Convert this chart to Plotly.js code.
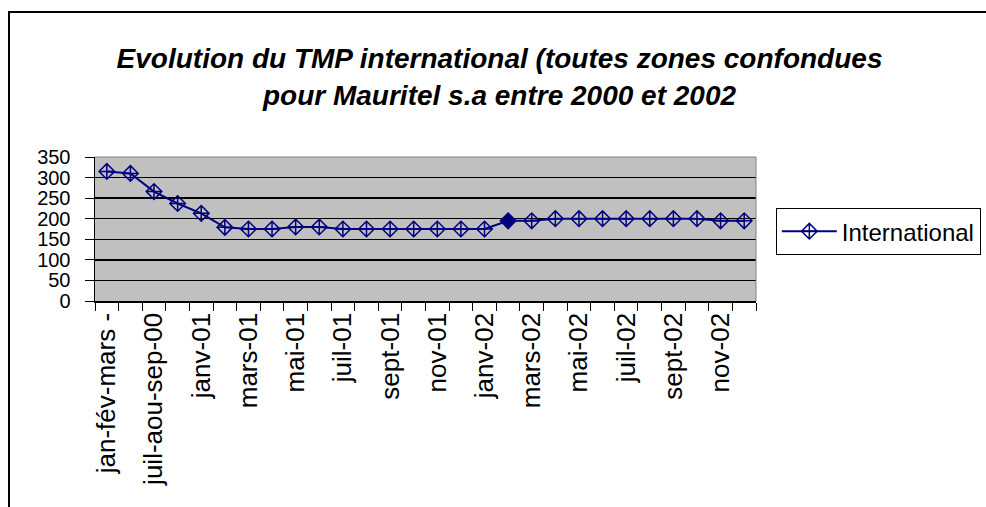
<!DOCTYPE html>
<html>
<head>
<meta charset="utf-8">
<script src="https://cdn.plot.ly/plotly-3.0.1.min.js"></script>
<style>
  html, body { margin: 0; padding: 0; background: #fff; }
  #wrap { position: relative; width: 986px; height: 507px; overflow: hidden; }
  #chart { width: 986px; height: 507px; }
  #frame { position: absolute; left: 8px; top: 11px; width: 1000px; height: 520px;
           border-left: 2px solid #000; border-top: 2px solid #000; pointer-events: none; }
</style>
</head>
<body>
<div id="wrap">
  <div id="chart"></div>
  <div id="frame"></div>
</div>
<script>
const categories = [
  "jan-fév-mars -00", "avr-mai-juin-00", "juil-aou-sep-00", "oct-nov-déc-00",
  "janv-01", "févr-01", "mars-01", "avr-01", "mai-01", "juin-01", "juil-01", "août-01",
  "sept-01", "oct-01", "nov-01", "déc-01",
  "janv-02", "févr-02", "mars-02", "avr-02", "mai-02", "juin-02", "juil-02", "août-02",
  "sept-02", "oct-02", "nov-02", "déc-02"
];
const international = [315, 310, 266, 237, 213, 179, 175, 175, 180, 180, 175, 175,
  175, 175, 175, 175, 175, 195, 195, 200, 200, 200, 200, 200, 200, 200, 195, 195];
const tickLabels = [
  "jan-fév-mars -", "", "juil-aou-sep-00", "", "janv-01", "", "mars-01", "", "mai-01", "",
  "juil-01", "", "sept-01", "", "nov-01", "", "janv-02", "", "mars-02", "", "mai-02", "",
  "juil-02", "", "sept-02", "", "nov-02", ""
];
const seriesName = "International";
const titleText = "Evolution du TMP international (toutes zones confondues<br>pour Mauritel s.a entre 2000 et 2002";

const font = "Liberation Sans, Arial, sans-serif";
const symbols = international.map((v, i) => i === 17 ? "diamond-cross" : "diamond-cross-open");

const trace = {
  type: "scatter",
  mode: "lines+markers",
  x: categories,
  y: international,
  name: seriesName,
  line: { color: "#000080", width: 2 },
  marker: { symbol: symbols, size: 12, color: "#000080", line: { color: "#000080", width: 1.5 } }
};

const layout = {
  width: 986, height: 507,
  margin: { l: 95, r: 230, t: 157, b: 206, autoexpand: false },
  paper_bgcolor: "#ffffff",
  plot_bgcolor: "#c0c0c0",
  font: { family: font, color: "#000", size: 17 },
  title: {
    text: "<b><i>" + titleText + "</i></b>",
    font: { family: font, size: 28, color: "#000" },
    x: 0.612, xref: "paper", xanchor: "center",
    y: 0.865, yref: "container", yanchor: "middle"
  },
  showlegend: true,
  legend: {
    x: 1.03, xanchor: "left", y: 0.645, yanchor: "top",
    bordercolor: "#000", borderwidth: 1, bgcolor: "#fff",
    font: { family: font, size: 24, color: "#000" },
    itemwidth: 55
  },
  xaxis: {
    type: "category",
    categoryorder: "array", categoryarray: categories,
    tickvals: categories, ticktext: tickLabels,
    tickson: "boundaries",
    ticks: "outside", ticklen: 8, tickcolor: "#000", tickwidth: 1,
    tickangle: -90,
    tickfont: { family: font, size: 26, color: "#000" },
    showgrid: false, zeroline: false,
    showline: true, linecolor: "#000", linewidth: 1.5,
    range: [-0.5, 27.5], fixedrange: true
  },
  yaxis: {
    range: [0, 350], dtick: 50, tick0: 0,
    ticks: "outside", ticklen: 9, tickcolor: "#000", tickwidth: 1,
    tickfont: { family: font, size: 20, color: "#000" },
    showgrid: true, gridcolor: "#000", gridwidth: 1.5,
    zeroline: false,
    showline: true, linecolor: "#000", linewidth: 1.5,
    ticklabelstandoff: 10,
    fixedrange: true
  },
  shapes: [
    { type: "line", xref: "paper", yref: "paper", x0: 0, x1: 1, y0: 1, y1: 1, line: { color: "#808080", width: 1 } },
    { type: "line", xref: "paper", yref: "paper", x0: 1, x1: 1, y0: 0, y1: 1, line: { color: "#808080", width: 1 } }
  ]
};

Plotly.newPlot("chart", [trace], layout, { displayModeBar: false, staticPlot: true });
</script>
</body>
</html>
